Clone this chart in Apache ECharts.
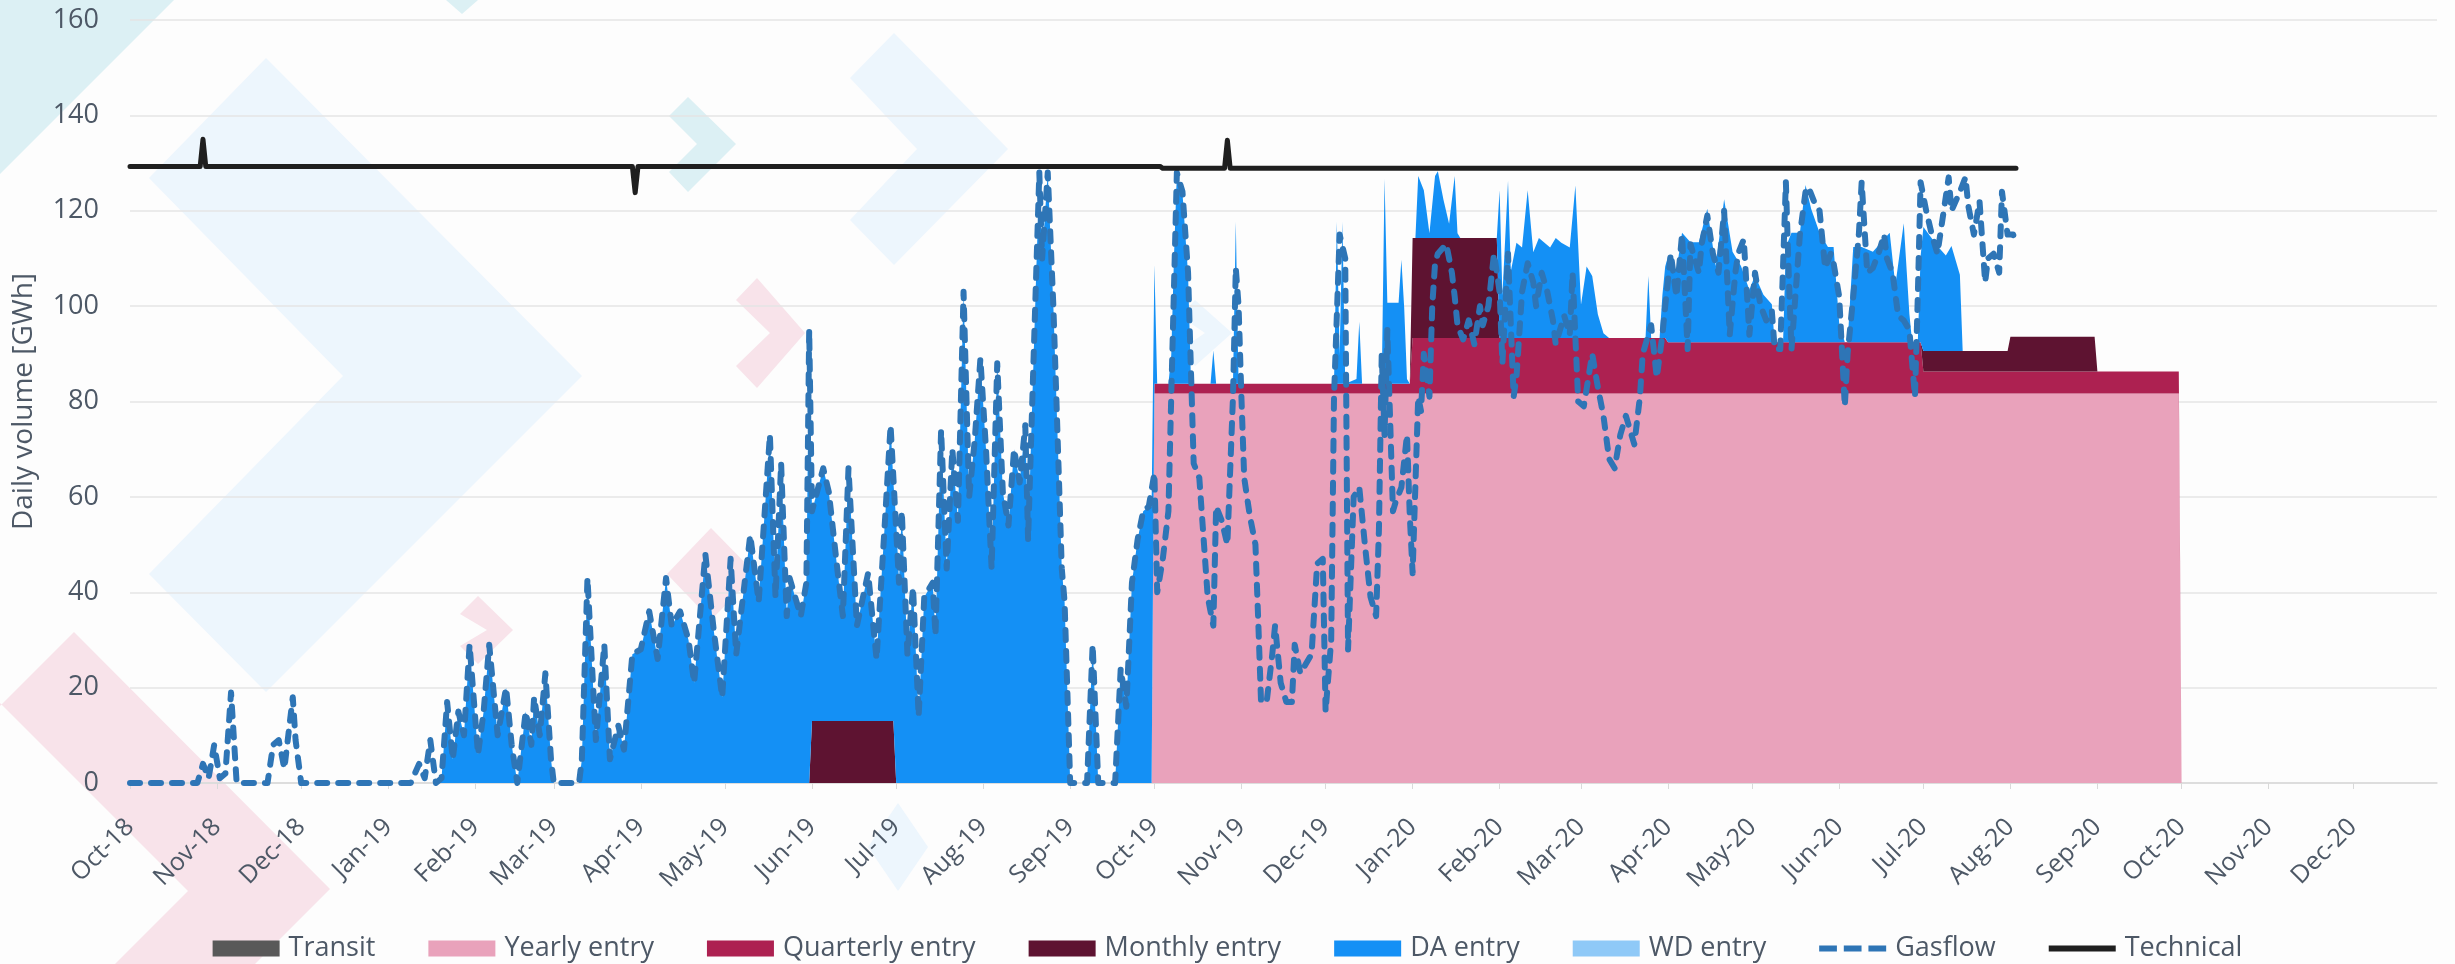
<!DOCTYPE html>
<html>
<head>
<meta charset="utf-8">
<script src="https://cdn.jsdelivr.net/npm/echarts@6/dist/echarts.min.js"></script>
<style>
  html, body { margin: 0; padding: 0; background: #fdfdfd; }
  #chart { width: 2455px; height: 964px; }
</style>
</head>
<body>
<div id="chart"></div>
<script>
// axis range (daily categories)
const startDate = '2018-10-01'
const endDate = '2020-12-31'
const monthNames = ['Jan', 'Feb', 'Mar', 'Apr', 'May', 'Jun', 'Jul', 'Aug', 'Sep', 'Oct', 'Nov', 'Dec']
const yTicks = { min: 0, max: 160, interval: 20 }

// contract layers: [from, to, GWh/day]
const yearlySegments = [['2019-10-01', '2020-09-30', 81.7]]
const quarterlySegments = [
  ['2019-10-01', '2019-12-31', 2.0],
  ['2020-01-01', '2020-03-31', 11.6],
  ['2020-04-01', '2020-06-30', 10.7],
  ['2020-07-01', '2020-09-30', 4.6],
]
const monthlySegments = [
  ['2019-06-01', '2019-06-30', 13],
  ['2020-01-01', '2020-01-31', 21],
  ['2020-07-01', '2020-07-31', 4.3],
  ['2020-08-01', '2020-08-31', 7.3],
]

// day-ahead entry
const daEntry = [
  ['2019-01-18',0],['2019-01-20',1],['2019-01-22',17],['2019-01-24',5],['2019-01-26',15],['2019-01-28',10],['2019-01-30',29],
  ['2019-02-02',6],['2019-02-04',15],['2019-02-06',29],['2019-02-09',10],['2019-02-12',20],['2019-02-14',8],['2019-02-16',0],['2019-02-19',15],['2019-02-21',8],['2019-02-22',18],['2019-02-24',10],['2019-02-26',23],['2019-02-28',5],
  ['2019-03-01',0],['2019-03-10',0],['2019-03-11',5],['2019-03-13',43],['2019-03-16',9],['2019-03-19',29],['2019-03-21',5],['2019-03-24',12],['2019-03-26',7],['2019-03-29',27],
  ['2019-04-01',28],['2019-04-04',36],['2019-04-07',26],['2019-04-10',43],['2019-04-12',33],['2019-04-15',36],['2019-04-18',30],['2019-04-20',21],['2019-04-24',48],['2019-04-27',32],['2019-04-30',18],
  ['2019-05-03',47],['2019-05-05',27],['2019-05-10',52],['2019-05-13',38],['2019-05-17',73],['2019-05-19',39],['2019-05-21',67],['2019-05-23',35],['2019-05-24',43],['2019-05-28',35],['2019-05-30',42],['2019-05-31',95],
  ['2019-06-01',44],['2019-06-05',53],['2019-06-07',48],['2019-06-10',32],['2019-06-12',22],['2019-06-14',53],['2019-06-17',20],['2019-06-21',31],['2019-06-24',13],['2019-06-27',42],['2019-06-29',62],['2019-06-30',50],
  ['2019-07-01',55],['2019-07-02',42],['2019-07-03',57],['2019-07-05',27],['2019-07-07',41],['2019-07-09',14],['2019-07-11',39],['2019-07-14',42],['2019-07-15',31],['2019-07-17',74],['2019-07-19',45],['2019-07-21',70],['2019-07-23',55],['2019-07-25',103],['2019-07-27',60],['2019-07-29',72],['2019-07-31',89],
  ['2019-08-02',70],['2019-08-04',45],['2019-08-06',88],['2019-08-08',61],['2019-08-10',54],['2019-08-12',70],['2019-08-14',63],['2019-08-16',75],['2019-08-17',51],['2019-08-19',90],['2019-08-21',128],['2019-08-22',110],['2019-08-24',128],['2019-08-26',100],['2019-08-27',82],['2019-08-29',45],['2019-08-30',38],
  ['2019-09-01',0],['2019-09-07',0],['2019-09-09',29],['2019-09-11',0],['2019-09-17',0],['2019-09-19',24],['2019-09-21',16],['2019-09-23',42],['2019-09-25',51],['2019-09-27',57],['2019-09-29',58],['2019-09-30',58],
  ['2019-10-01',25],['2019-10-02',0],['2019-10-06',0],['2019-10-07',6],['2019-10-08',27],['2019-10-09',44],['2019-10-11',40],['2019-10-13',23],['2019-10-14',1],['2019-10-15',0],
  ['2019-10-21',0],['2019-10-22',7],['2019-10-23',0],['2019-10-29',0],['2019-10-30',34],['2019-10-31',0],
  ['2019-12-04',0],['2019-12-05',34],['2019-12-06',6],['2019-12-07',34],['2019-12-08',0],['2019-12-12',1],['2019-12-13',13],['2019-12-14',0],
  ['2019-12-21',0],['2019-12-22',43],['2019-12-23',17],['2019-12-25',17],['2019-12-27',17],['2019-12-28',26],['2019-12-29',16],['2019-12-30',1],['2019-12-31',0],
  ['2020-01-01',0],['2020-01-02',0],['2020-01-03',13],['2020-01-05',10],['2020-01-07',1],['2020-01-09',13],['2020-01-10',14],['2020-01-12',8],['2020-01-14',3],['2020-01-16',13],['2020-01-17',1],['2020-01-18',0],['2020-01-31',0],
  ['2020-02-01',31],['2020-02-02',9],['2020-02-04',33],['2020-02-05',14],['2020-02-07',20],['2020-02-09',19],['2020-02-11',31],['2020-02-13',18],['2020-02-15',21],['2020-02-17',20],['2020-02-19',19],['2020-02-21',21],['2020-02-23',20],['2020-02-26',19],['2020-02-28',32],
  ['2020-03-01',7],['2020-03-03',15],['2020-03-05',13],['2020-03-07',5],['2020-03-09',1],['2020-03-11',0],['2020-03-24',0],['2020-03-25',13],['2020-03-26',0],['2020-03-29',0],['2020-03-30',9],['2020-03-31',15],
  ['2020-04-01',18],['2020-04-04',15],['2020-04-06',23],['2020-04-09',21],['2020-04-12',21],['2020-04-15',28],['2020-04-18',16],['2020-04-21',30],['2020-04-24',19],['2020-04-27',16],['2020-04-30',11],
  ['2020-05-02',14],['2020-05-05',10],['2020-05-08',8],['2020-05-09',0],['2020-05-12',0],['2020-05-13',20],['2020-05-15',23],['2020-05-18',23],['2020-05-20',33],['2020-05-22',28],['2020-05-25',23],['2020-05-28',20],['2020-05-30',20],
  ['2020-06-01',4],['2020-06-03',0],['2020-06-04',0],['2020-06-06',20],['2020-06-09',20],['2020-06-13',19],['2020-06-16',21],['2020-06-19',23],['2020-06-21',12],['2020-06-24',25],['2020-06-26',6],['2020-06-27',0],['2020-06-29',0],['2020-06-30',18],
  ['2020-07-01',26],['2020-07-06',22],['2020-07-09',20],['2020-07-11',22],['2020-07-14',16],['2020-07-15',0],
]
const wdEntry = []
const transit = []

// measured gas flow
const gasflow = [
  ['2018-10-01',0],['2018-10-25',0],['2018-10-27',4],['2018-10-29',1],['2018-10-31',8],['2018-11-02',1],['2018-11-04',2],['2018-11-06',19],['2018-11-08',0],
  ['2018-11-19',0],['2018-11-21',8],['2018-11-23',9],['2018-11-25',3],['2018-11-28',18],['2018-11-29',9],['2018-12-01',0],
  ['2019-01-09',0],['2019-01-12',4],['2019-01-14',1],['2019-01-16',9],['2019-01-18',0],['2019-01-20',1],['2019-01-22',17],['2019-01-24',5],['2019-01-26',15],['2019-01-28',10],['2019-01-30',29],
  ['2019-02-02',6],['2019-02-04',15],['2019-02-06',29],['2019-02-09',10],['2019-02-12',20],['2019-02-14',8],['2019-02-16',0],['2019-02-19',15],['2019-02-21',8],['2019-02-22',18],['2019-02-24',10],['2019-02-26',23],['2019-02-28',5],
  ['2019-03-01',0],['2019-03-10',0],['2019-03-11',5],['2019-03-13',43],['2019-03-16',9],['2019-03-19',29],['2019-03-21',5],['2019-03-24',12],['2019-03-26',7],['2019-03-29',27],
  ['2019-04-01',28],['2019-04-04',36],['2019-04-07',26],['2019-04-10',43],['2019-04-12',33],['2019-04-15',36],['2019-04-18',30],['2019-04-20',21],['2019-04-24',48],['2019-04-27',32],['2019-04-30',18],
  ['2019-05-03',47],['2019-05-05',27],['2019-05-10',52],['2019-05-13',38],['2019-05-17',73],['2019-05-19',39],['2019-05-21',67],['2019-05-23',35],['2019-05-24',43],['2019-05-28',35],['2019-05-30',42],['2019-05-31',95],
  ['2019-06-01',57],['2019-06-05',66],['2019-06-07',61],['2019-06-10',45],['2019-06-12',35],['2019-06-14',66],['2019-06-17',33],['2019-06-21',44],['2019-06-24',26],['2019-06-27',55],['2019-06-29',75],
  ['2019-07-02',42],['2019-07-03',57],['2019-07-05',27],['2019-07-07',41],['2019-07-09',14],['2019-07-11',39],['2019-07-14',42],['2019-07-15',31],['2019-07-17',74],['2019-07-19',45],['2019-07-21',70],['2019-07-23',55],['2019-07-25',103],['2019-07-27',60],['2019-07-29',72],['2019-07-31',89],
  ['2019-08-02',70],['2019-08-04',45],['2019-08-06',88],['2019-08-08',61],['2019-08-10',54],['2019-08-12',70],['2019-08-14',63],['2019-08-16',75],['2019-08-17',51],['2019-08-19',90],['2019-08-21',128],['2019-08-22',110],['2019-08-24',128],['2019-08-26',100],['2019-08-27',82],['2019-08-29',45],['2019-08-30',38],
  ['2019-09-01',0],['2019-09-07',0],['2019-09-09',29],['2019-09-11',0],['2019-09-17',0],['2019-09-19',24],['2019-09-21',16],['2019-09-23',42],['2019-09-25',51],['2019-09-27',57],['2019-09-29',58],
  ['2019-10-01',65],['2019-10-02',40],['2019-10-04',47],['2019-10-06',57],['2019-10-07',81],['2019-10-09',128],['2019-10-11',124],['2019-10-13',107],['2019-10-15',67],['2019-10-17',64],['2019-10-20',39],['2019-10-22',33],['2019-10-23',58],['2019-10-25',55],['2019-10-27',50],['2019-10-29',81],['2019-10-30',108],['2019-10-31',100],
  ['2019-11-01',81],['2019-11-02',64],['2019-11-04',56],['2019-11-06',50],['2019-11-07',34],['2019-11-08',17],['2019-11-10',17],['2019-11-12',27],['2019-11-13',33],['2019-11-15',21],['2019-11-17',17],['2019-11-19',17],['2019-11-20',29],['2019-11-22',23],['2019-11-24',25],['2019-11-26',27],['2019-11-28',46],['2019-11-30',47],
  ['2019-12-01',15],['2019-12-03',30],['2019-12-04',81],['2019-12-06',115],['2019-12-08',110],['2019-12-09',28],['2019-12-11',60],['2019-12-13',62],['2019-12-15',50],['2019-12-17',39],['2019-12-19',35],['2019-12-20',53],['2019-12-21',90],['2019-12-22',73],['2019-12-23',95],['2019-12-25',57],['2019-12-26',59],['2019-12-28',62],['2019-12-30',73],['2019-12-31',56],
  ['2020-01-01',44],['2020-01-03',81],['2020-01-04',78],['2020-01-05',90],['2020-01-07',81],['2020-01-08',100],['2020-01-09',109],['2020-01-10',111],['2020-01-13',113],['2020-01-15',107],['2020-01-16',102],['2020-01-17',96],['2020-01-19',93],['2020-01-21',97],['2020-01-23',92],['2020-01-25',100],['2020-01-26',96],['2020-01-28',100],['2020-01-30',111],
  ['2020-02-01',103],['2020-02-02',88],['2020-02-04',111],['2020-02-06',81],['2020-02-07',85],['2020-02-09',103],['2020-02-11',109],['2020-02-13',105],['2020-02-14',100],['2020-02-16',107],['2020-02-18',103],['2020-02-20',97],['2020-02-21',92],['2020-02-24',98],['2020-02-26',94],['2020-02-27',107],['2020-02-29',80],
  ['2020-03-02',79],['2020-03-05',90],['2020-03-07',83],['2020-03-09',77],['2020-03-11',68],['2020-03-13',66],['2020-03-15',73],['2020-03-17',77],['2020-03-20',71],['2020-03-22',81],['2020-03-23',90],['2020-03-26',96],['2020-03-28',85],['2020-03-30',94],['2020-03-31',100],
  ['2020-04-02',111],['2020-04-04',102],['2020-04-06',115],['2020-04-08',91],['2020-04-09',113],['2020-04-12',107],['2020-04-13',113],['2020-04-15',119],['2020-04-17',111],['2020-04-19',107],['2020-04-21',120],['2020-04-23',94],['2020-04-25',107],['2020-04-26',111],['2020-04-28',114],['2020-04-30',94],
  ['2020-05-02',107],['2020-05-04',100],['2020-05-06',97],['2020-05-08',99],['2020-05-09',91],['2020-05-11',91],['2020-05-13',126],['2020-05-14',107],['2020-05-15',91],['2020-05-18',115],['2020-05-20',124],['2020-05-21',125],['2020-05-23',122],['2020-05-25',120],['2020-05-27',108],['2020-05-29',111],['2020-05-30',109],
  ['2020-06-01',102],['2020-06-03',79],['2020-06-04',90],['2020-06-06',102],['2020-06-08',115],['2020-06-09',126],['2020-06-11',107],['2020-06-13',108],['2020-06-15',111],['2020-06-17',115],['2020-06-18',110],['2020-06-20',107],['2020-06-22',98],['2020-06-24',97],['2020-06-26',95],['2020-06-28',81],['2020-06-29',102],['2020-06-30',126],
  ['2020-07-02',120],['2020-07-04',115],['2020-07-06',111],['2020-07-07',115],['2020-07-10',127],['2020-07-11',120],['2020-07-14',124],['2020-07-16',127],['2020-07-17',121],['2020-07-19',115],['2020-07-21',122],['2020-07-23',105],['2020-07-24',110],['2020-07-26',111],['2020-07-28',107],['2020-07-29',124],['2020-07-31',115],
  ['2020-08-02',115],['2020-08-03',113],
]

// technical capacity
const technical = [
  ['2018-10-01',129.3],['2018-10-26',129.3],['2018-10-27',135],['2018-10-28',129.3],
  ['2019-03-29',129.3],['2019-03-30',123.8],['2019-03-31',129.3],
  ['2019-10-03',129.3],['2019-10-04',128.9],['2019-10-26',128.9],['2019-10-27',134.8],['2019-10-28',128.9],
  ['2020-08-03',128.9],
]

const colors = {
  transit: '#595959',
  yearly: '#e9a2bb',
  quarterly: '#ad2151',
  monthly: '#5e1331',
  da: '#1490f5',
  wd: '#8fc9f7',
  gasflow: '#2e75b6',
  technical: '#1f1f1f',
}
const textColor = '#4d5866'

// daily category list
const dates = []
for (let t = Date.parse(startDate); t <= Date.parse(endDate); t += 86400000) {
  dates.push(new Date(t).toISOString().slice(0, 10))
}

// expand step layers to one value per day
function expand(segments) {
  return dates.map(d => {
    const s = segments.find(seg => d >= seg[0] && d <= seg[1])
    return s ? s[2] : 0
  })
}

const isMonthStart = (i, v) => v.slice(8) === '01'

function areaSeries(name, data, color) {
  return {
    name, type: 'line', stack: 'entry', data, symbol: 'none',
    lineStyle: { width: 0 }, itemStyle: { color },
    areaStyle: { color, opacity: 1 }, z: 2,
  }
}

// watermark chevrons behind the plot
const chevrons = [
  { fill: '#dcf0f4', points: [[0, 0], [174, 0], [0, 174]] },
  { fill: '#dcf0f4', points: [[446, 0], [478, 0], [462, 14]] },
  { fill: '#edf6fd', points: [[266, 58], [582, 376], [266, 692], [149, 574], [343, 376], [149, 178]] },
  { fill: '#dcf0f4', points: [[688, 97], [736, 144], [688, 192], [669, 172], [697, 144], [669, 116]] },
  { fill: '#edf6fd', points: [[894, 33], [1008, 149], [894, 265], [850, 220], [917, 149], [850, 78]] },
  { fill: '#f8e3ea', points: [[757, 278], [805, 333], [757, 388], [736, 366], [770, 333], [736, 300]] },
  { fill: '#f8e3ea', points: [[478, 596], [513, 630], [478, 664], [460, 646], [487, 630], [460, 614]] },
  { fill: '#f8e3ea', points: [[711, 528], [756, 574], [711, 620], [667, 574]] },
  { fill: '#f8e3ea', points: [[74, 632], [330, 889], [255, 964], [115, 964], [188, 891], [0, 703], [0, 706]] },
  { fill: '#edf6fd', points: [[898, 803], [928, 847], [898, 891], [868, 847]] },
  { fill: '#edf6fd', points: [[1195, 300], [1232, 333], [1195, 366], [1180, 350], [1205, 333], [1180, 316]] },
]

const options = {
  animation: false,
  backgroundColor: '#fdfdfd',
  textStyle: { fontFamily: 'Open Sans' },
  graphic: chevrons.map(c => ({
    type: 'polygon', silent: true, z: -10,
    shape: { points: c.points }, style: { fill: c.fill },
  })),
  grid: { left: 130, right: 18, top: 20, bottom: 181, outerBoundsMode: 'none' },
  legend: {
    top: 930, left: 'center',
    itemWidth: 67, itemHeight: 16, itemGap: 53,
    textStyle: { color: textColor, fontSize: 27, padding: [0, 0, 0, 4] },
    data: [
      { name: 'Transit', icon: 'rect' },
      { name: 'Yearly entry', icon: 'rect' },
      { name: 'Quarterly entry', icon: 'rect' },
      { name: 'Monthly entry', icon: 'rect' },
      { name: 'DA entry', icon: 'rect' },
      { name: 'WD entry', icon: 'rect' },
      { name: 'Gasflow', icon: 'path://M0,0h18v6h-18z M25,0h18v6h-18z M50,0h18v6h-18z' },
      { name: 'Technical', icon: 'path://M0,0h68v6h-68z' },
    ],
  },
  xAxis: {
    type: 'category',
    data: dates,
    boundaryGap: false,
    axisLine: { lineStyle: { color: '#d9d9d9', width: 1.5 } },
    axisTick: { show: true, interval: isMonthStart, length: 6, lineStyle: { color: '#d9d9d9' } },
    axisLabel: {
      interval: isMonthStart,
      rotate: 45,
      margin: 40,
      fontSize: 25,
      color: textColor,
      formatter: v => monthNames[+v.slice(5, 7) - 1] + '-' + v.slice(2, 4),
    },
    splitLine: { show: false },
  },
  yAxis: {
    type: 'value',
    min: yTicks.min, max: yTicks.max, interval: yTicks.interval,
    name: 'Daily volume [GWh]',
    nameLocation: 'middle',
    nameGap: 92,
    nameTextStyle: { color: textColor, fontSize: 28 },
    axisLine: { show: false },
    axisTick: { show: false },
    axisLabel: { color: textColor, fontSize: 27, margin: 31 },
    splitLine: { lineStyle: { color: '#e4e4e4', width: 1.5 } },
  },
  series: [
    { name: 'Transit', type: 'line', data: transit, symbol: 'none', itemStyle: { color: colors.transit } },
    areaSeries('Yearly entry', expand(yearlySegments), colors.yearly),
    areaSeries('Quarterly entry', expand(quarterlySegments), colors.quarterly),
    areaSeries('Monthly entry', expand(monthlySegments), colors.monthly),
    areaSeries('DA entry', daEntry, colors.da),
    areaSeries('WD entry', wdEntry, colors.wd),
    {
      name: 'Gasflow', type: 'line', data: gasflow, symbol: 'none', z: 3,
      itemStyle: { color: colors.gasflow },
      lineStyle: { color: colors.gasflow, width: 6, type: [10, 11], cap: 'round', join: 'round' },
    },
    {
      name: 'Technical', type: 'line', data: technical, symbol: 'none', z: 4,
      itemStyle: { color: colors.technical },
      lineStyle: { color: colors.technical, width: 5, cap: 'round', join: 'round' },
    },
  ],
}

const chart = echarts.init(document.getElementById('chart'))
chart.setOption(options)
window.addEventListener('resize', function () {
  chart && chart.resize()
})
</script>
</body>
</html>
